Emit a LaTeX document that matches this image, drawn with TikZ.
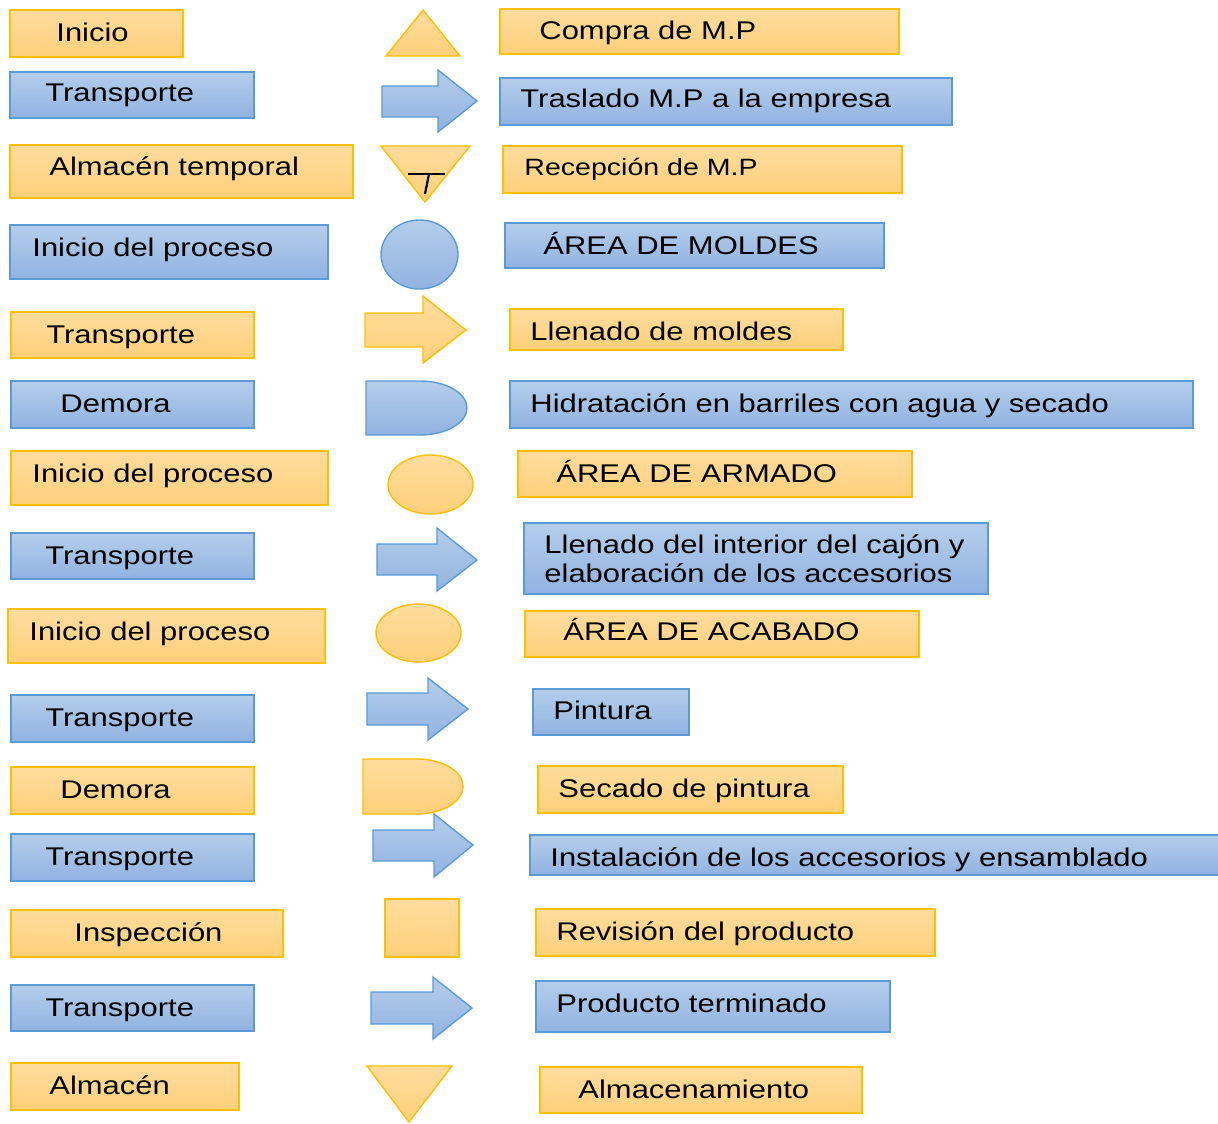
\documentclass[tikz,border=0pt]{standalone}
\usepackage{fontspec}
\setmainfont{Liberation Sans}[FakeStretch=1.21]
\definecolor{oarriba}{RGB}{255,220,158}
\definecolor{oabajo}{RGB}{255,208,122}
\definecolor{oborde}{RGB}{255,192,0}
\definecolor{aarriba}{RGB}{180,205,234}
\definecolor{aabajo}{RGB}{145,179,226}
\definecolor{aborde}{RGB}{91,155,213}
\tikzset{
	ocaja/.style={top color=oarriba, bottom color=oabajo, draw=oborde, line width=0.7pt},
	acaja/.style={top color=aarriba, bottom color=aabajo, draw=aborde, line width=0.7pt},
	rotulo/.style={anchor=base west, inner sep=0pt, font=\fontsize{12.8pt}{14.5pt}\selectfont}
}
\begin{document}
\begin{tikzpicture}[x=0.5pt, y=-0.5pt]
	\useasboundingbox (0,0) rectangle (1218,1123);
	% columna izquierda
	\shade[ocaja] (10,10) rectangle (183,57);
	\node[rotulo] (l1) at (56,42) {Inicio};
	\shade[acaja] (10,72) rectangle (254,118);
	\node[rotulo] (l2) at (45,102) {Transporte};
	\shade[ocaja] (10,145) rectangle (353,198);
	\node[rotulo] (l3) at (49,176) {Almacén temporal};
	\shade[acaja] (10,225) rectangle (328,279);
	\node[rotulo] (l4) at (32,256) {Inicio del proceso};
	\shade[ocaja] (11,312) rectangle (254,358);
	\node[rotulo] (l5) at (46,343) {Transporte};
	\shade[acaja] (11,381) rectangle (254,428);
	\node[rotulo] (l6) at (60,412) {Demora};
	\shade[ocaja] (11,451) rectangle (328,505);
	\node[rotulo] (l7) at (32,482) {Inicio del proceso};
	\shade[acaja] (11,533) rectangle (254,579);
	\node[rotulo] (l8) at (45,564) {Transporte};
	\shade[ocaja] (8,609) rectangle (325,663);
	\node[rotulo] (l9) at (29,640) {Inicio del proceso};
	\shade[acaja] (11,695) rectangle (254,742);
	\node[rotulo] (l10) at (45,726) {Transporte};
	\shade[ocaja] (11,767) rectangle (254,814);
	\node[rotulo] (l11) at (60,798) {Demora};
	\shade[acaja] (11,834) rectangle (254,881);
	\node[rotulo] (l12) at (45,865) {Transporte};
	\shade[ocaja] (11,910) rectangle (283,957);
	\node[rotulo] (l13) at (74,941) {Inspección};
	\shade[acaja] (11,985) rectangle (254,1031);
	\node[rotulo] (l14) at (45,1016) {Transporte};
	\shade[ocaja] (11,1063) rectangle (239,1110);
	\node[rotulo] (l15) at (49,1094) {Almacén};
	% simbolos
	\shade[ocaja] (423,10) -- (460,56) -- (386,56) -- cycle;
	\shade[acaja] (382,86) -- (438,86) -- (438,70) -- (477,101) -- (438,132) -- (438,117) -- (382,117) -- cycle;
	\shade[ocaja] (381,146) -- (470,146) -- (425,202) -- cycle;
	\draw[line width=1.1pt] (408,174) -- (445,174);
	\draw[line width=1.1pt] (429,174) -- (425,194);
	\shade[acaja] (419.5,254.5) ellipse [x radius=38.5, y radius=34.5];
	\shade[ocaja] (365,313) -- (423,313) -- (423,296) -- (466,330) -- (423,363) -- (423,347) -- (365,347) -- cycle;
	\shade[acaja] (366,381) -- (420,381) arc[start angle=-90, end angle=90, x radius=47, y radius=27] -- (366,435) -- cycle;
	\shade[ocaja] (430.5,484.5) ellipse [x radius=42.5, y radius=29.5];
	\shade[acaja] (377,544) -- (437,544) -- (437,528) -- (477,560) -- (437,591) -- (437,575) -- (377,575) -- cycle;
	\shade[ocaja] (418.5,633) ellipse [x radius=42.5, y radius=29];
	\shade[acaja] (367,693) -- (428,693) -- (428,678) -- (468,709) -- (428,740) -- (428,725) -- (367,725) -- cycle;
	\shade[ocaja] (363,759) -- (417,759) arc[start angle=-90, end angle=90, x radius=46, y radius=27.5] -- (363,814) -- cycle;
	\shade[acaja] (373,830) -- (434,830) -- (434,814) -- (473,845) -- (434,877) -- (434,861) -- (373,861) -- cycle;
	\shade[ocaja] (385,899) rectangle (459,957);
	\shade[acaja] (371,992) -- (433,992) -- (433,977) -- (472,1008) -- (433,1039) -- (433,1024) -- (371,1024) -- cycle;
	\shade[ocaja] (367,1066) -- (452,1066) -- (409,1122) -- cycle;
	% columna derecha
	\shade[ocaja] (500,9) rectangle (899,54);
	\node[rotulo] (d1) at (539,40) {Compra de M.P};
	\shade[acaja] (500,78) rectangle (952,125);
	\node[rotulo] (d2) at (520,108) {Traslado M.P a la empresa};
	\shade[ocaja] (503,146) rectangle (902,193);
	\node[rotulo, font=\fontsize{11.8pt}{14pt}\selectfont] (d3) at (524,176) {Recepción de M.P};
	\shade[acaja] (505,223) rectangle (884,268);
	\node[rotulo] (d4) at (543,254) {ÁREA DE MOLDES};
	\shade[ocaja] (510,309) rectangle (843,350);
	\node[rotulo] (d5) at (530,340) {Llenado de moldes};
	\shade[acaja] (510,381) rectangle (1193,428);
	\node[rotulo] (d6) at (530,412) {Hidratación en barriles con agua y secado};
	\shade[ocaja] (518,451) rectangle (912,497);
	\node[rotulo] (d7) at (556,482) {ÁREA DE ARMADO};
	\shade[acaja] (524,523) rectangle (988,594);
	\node[rotulo, align=left] (d8) at (544,582) {Llenado del interior del cajón y\\elaboración de los accesorios};
	\shade[ocaja] (525,611) rectangle (919,657);
	\node[rotulo] (d9) at (563,640) {ÁREA DE ACABADO};
	\shade[acaja] (533,689) rectangle (689,735);
	\node[rotulo] (d10) at (553,719) {Pintura};
	\shade[ocaja] (538,766) rectangle (843,813);
	\node[rotulo] (d11) at (558,797) {Secado de pintura};
	\shade[acaja] (530,835) rectangle (1230,875);
	\node[rotulo] (d12) at (550,866) {Instalación de los accesorios y ensamblado};
	\shade[ocaja] (536,909) rectangle (935,956);
	\node[rotulo] (d13) at (556,940) {Revisión del producto};
	\shade[acaja] (536,981) rectangle (890,1032);
	\node[rotulo] (d14) at (556,1012) {Producto terminado};
	\shade[ocaja] (540,1067) rectangle (862,1113);
	\node[rotulo] (d15) at (578,1098) {Almacenamiento};
\end{tikzpicture}
\end{document}
